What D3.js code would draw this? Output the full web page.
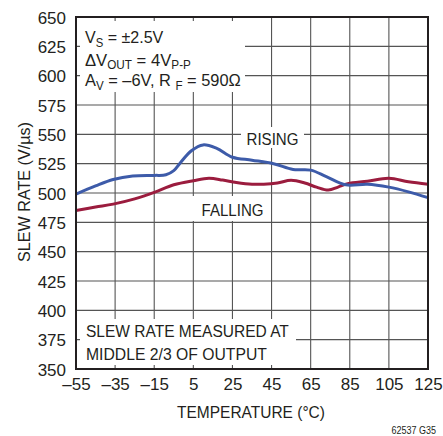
<!DOCTYPE html>
<html><head><meta charset="utf-8">
<script src="https://cdn.jsdelivr.net/npm/d3@7"></script>
<style>
body{margin:0;background:#fff;}
text{font-family:"Liberation Sans","Arial",sans-serif;fill:#231f20;}
</style></head>
<body><svg id="c" width="443" height="436"></svg>
<script>
const xTicks = [-55,-35,-15,5,25,45,65,85,105,125];
const yTicks = [350,375,400,425,450,475,500,525,550,575,600,625,650];
const risingT = [-55,-45,-36,-26,-15,-9,-5,-2,4,10,17,25,35,46,56,65,73,83,94,105,115,125];
const risingV = [499,506,511.5,514.5,515,515.5,519,525,536,541,538,530.5,528,525,520,519.5,514,507,507.5,505,501,496];
const fallingT = [-55,-45,-36,-25,-15,-5,5,13,20,27,35,41,48,55,62,68,74,79,84,94,105,115,125];
const fallingV = [485,488,490.5,495,500.5,507,510.5,512.5,511,509,507.5,507.5,508.5,510.8,508.5,505,502.5,505,508,510,512.5,509.5,507.5];

const svg = d3.select("#c");
const x = d3.scaleLinear().domain([-55,125]).range([76,428]);
const y = d3.scaleLinear().domain([350,650]).range([369,17]);
const gridC = "#555";

svg.append("g").selectAll("line").data(xTicks.slice(1,-1)).join("line")
  .attr("x1",d=>x(d)).attr("x2",d=>x(d)).attr("y1",y(650)).attr("y2",y(350))
  .attr("stroke",gridC).attr("stroke-width",1.1);
svg.append("g").selectAll("line").data(yTicks.slice(1,-1)).join("line")
  .attr("y1",d=>y(d)).attr("y2",d=>y(d)).attr("x1",x(-55)).attr("x2",x(125))
  .attr("stroke",gridC).attr("stroke-width",1.1);

const boxes = [[80,21,245,92],[80,319,296,365],[241,127,304,148],[190,196,269,221]];
svg.append("g").selectAll("rect").data(boxes).join("rect")
  .attr("x",d=>d[0]).attr("y",d=>d[1]).attr("width",d=>d[2]-d[0]).attr("height",d=>d[3]-d[1])
  .attr("fill","#fff");

const line = d3.line().x(d=>x(d[0])).y(d=>y(d[1])).curve(d3.curveCatmullRom.alpha(0.5));
svg.append("path").datum(fallingT.map((t,i)=>[t,fallingV[i]]))
  .attr("d",line).attr("fill","none").attr("stroke","#9b1c3e").attr("stroke-width",3);
svg.append("path").datum(risingT.map((t,i)=>[t,risingV[i]]))
  .attr("d",line).attr("fill","none").attr("stroke","#3d5ba9").attr("stroke-width",3);

svg.append("rect").attr("x",x(-55)).attr("y",y(650)).attr("width",x(125)-x(-55)).attr("height",y(350)-y(650))
  .attr("fill","none").attr("stroke","#231f20").attr("stroke-width",2);

const yAxis = d3.axisLeft(y).tickValues(yTicks).tickSize(0).tickPadding(10);
const gy = svg.append("g").attr("transform",`translate(${x(-55)},0)`).call(yAxis);
gy.select(".domain").remove();
gy.selectAll("text").style("font-size","17px").attr("dy","0.36em");
const xAxis = d3.axisBottom(x).tickValues(xTicks).tickSize(0).tickPadding(9)
  .tickFormat(d=>d<0?"\u2013"+Math.abs(d):d);
const gx = svg.append("g").attr("transform",`translate(0,${y(350)})`).call(xAxis);
gx.select(".domain").remove();
gx.selectAll("text").style("font-size","17px");

function label(px, py, anchor, w, fs, build, rot){
  const g = svg.append("g");
  const t = g.append("text").attr("x",0).attr("y",0).attr("text-anchor",anchor).style("font-size",fs+"px");
  build(t);
  const nat = t.node().getBBox().width;
  const k = w/nat;
  g.attr("transform",`translate(${px},${py})${rot?` rotate(${rot})`:""} scale(${k},1)`);
  return t;
}
function plain(s){ return t=>t.text(s); }
function sub(parts, fs){
  return t=>parts.forEach(p=>{
    const ts = t.append("tspan").text(p[0]);
    if(p[1]===1){ ts.attr("dy",3.5).style("font-size","12px"); }
    else if(p[1]===2){ ts.attr("dy",-3.5); }
  });
}
const fs=17;
label(30,192,"middle",140,17,plain("SLEW RATE (V/\u00b5s)"),-90);
label(251,418,"middle",148,17,plain("TEMPERATURE (\u00b0C)"));
label(436,434,"end",45,10,plain("62537 G35"));

label(85,43,"start",79,fs,sub([["V"],["S",1],[" = \u00b12.5V",2]],fs));
label(85,65.5,"start",106,fs,sub([["\u0394V"],["OUT",1],[" = 4V",2],["P-P",1]],fs));
label(85,86,"start",156,fs,sub([["A"],["V",1],[" = \u20136V, R ",2],["F",1],[" = 590\u03a9",2]],fs));

label(86,337,"start",203,fs,plain("SLEW RATE MEASURED AT"));
label(86,360,"start",181,fs,plain("MIDDLE 2/3 OF OUTPUT"));
label(272.5,145,"middle",52,fs,plain("RISING"));
label(232.5,216,"middle",62,fs,plain("FALLING"));
</script></body></html>
